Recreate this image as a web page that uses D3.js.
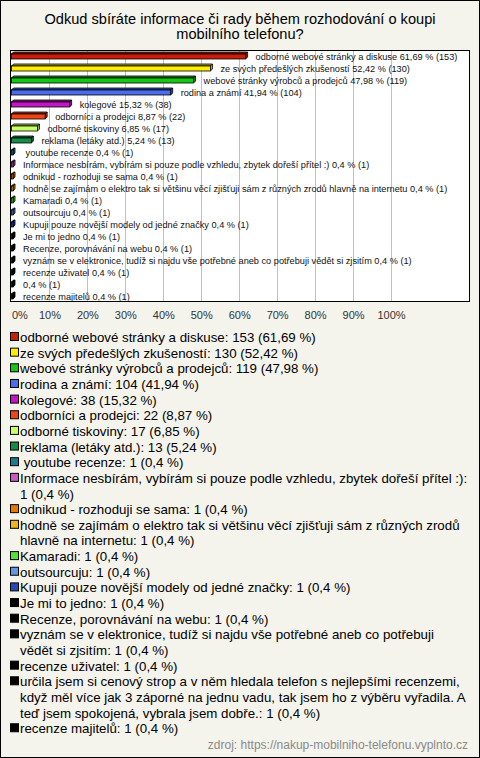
<!DOCTYPE html>
<html><head><meta charset="utf-8">
<script src="https://cdn.jsdelivr.net/npm/d3@7"></script>
<style>
html,body{margin:0;padding:0;background:#f4f3ec;}
svg{display:block;font-family:"Liberation Sans",Arial,sans-serif;}
</style></head>
<body><svg id="c" width="480" height="758"></svg>
<script>
const titleLines = ["Odkud sbíráte informace či rady během rozhodování o koupi", "mobilního telefonu?"];
const categories = [
  "odborné webové stránky a diskuse",
  "ze svých předešlých zkušeností",
  "webové stránky výrobců a prodejců",
  "rodina a známí",
  "kolegové",
  "odborníci a prodejci",
  "odborné tiskoviny",
  "reklama (letáky atd.)",
  " youtube recenze",
  "Informace nesbírám, vybírám si pouze podle vzhledu, zbytek dořeší přítel :)",
  "odnikud - rozhoduji se sama",
  "hodně se zajímám o elektro tak si většinu věcí zjišťuji sám z různých zrodů hlavně na internetu",
  "Kamaradi",
  "outsourcuju",
  "Kupuji pouze novější modely od jedné značky",
  "Je mi to jedno",
  "Recenze, porovnávání na webu",
  "vyznám se v elektronice, tudíž si najdu vše potřebné aneb co potřebuji vědět si zjsitím",
  "recenze uživatel",
  "určila jsem si cenový strop a v něm hledala telefon s nejlepšími recenzemi, když měl více jak 3 záporné na jednu vadu, tak jsem ho z výběru vyřadila. A teď jsem spokojená, vybrala jsem dobře.",
  "recenze majitelů"
];
const counts = [153,130,119,104,38,22,17,13,1,1,1,1,1,1,1,1,1,1,1,1,1];
const percents = [61.69,52.42,47.98,41.94,15.32,8.87,6.85,5.24,0.4,0.4,0.4,0.4,0.4,0.4,0.4,0.4,0.4,0.4,0.4,0.4,0.4];
const colors = ["#c81e0a","#ffee00","#14c814","#4a6cf0","#c814c8","#f04614","#c8ff64","#148c4a","#1e7d8c","#c85ac8","#e6780a","#f0b414","#50e632","#6496e6","#2846b4","#000000","#000000","#000000","#000000","#000000","#000000"];
const tickValues = [0,10,20,30,40,50,60,70,80,90,100];
const sourceText = "zdroj: https://nakup-mobilniho-telefonu.vyplnto.cz";

const svg = d3.select("#c");
const W = 480, H = 758;
const nb = s => s.replace(/^ /, "\u00a0");
svg.append("rect").attr("x",0.5).attr("y",0.5).attr("width",W-1).attr("height",H-1)
  .attr("fill","#f4f3ec").attr("stroke","#000");

// title
svg.append("g").selectAll("text").data(titleLines).join("text")
  .attr("x",240).attr("y",(d,i)=>24+i*14.5).attr("text-anchor","middle")
  .attr("font-size",14.6).attr("fill","#000").text(d=>d);

// plot
const box = {x0:10, x1:470, y0:50, y1:302};
const x = d3.scaleLinear().domain([0,100]).range([11.5,391]);
const y = d3.scaleBand().domain(d3.range(categories.length)).range([box.y0, box.y1]);

svg.append("rect").attr("x",box.x0+0.5).attr("y",box.y0+0.5).attr("width",box.x1-box.x0-1).attr("height",box.y1-box.y0-1)
  .attr("fill","#fff").attr("stroke","#000");

svg.append("g").selectAll("line").data(tickValues.filter(v=>v>0)).join("line")
  .attr("x1",d=>Math.round(x(d))+0.5).attr("x2",d=>Math.round(x(d))+0.5)
  .attr("y1",box.y0+1).attr("y2",box.y1-1).attr("stroke","#c0c0c0");

const axis = d3.axisBottom(x).tickValues(tickValues).tickSize(0).tickPadding(0).tickFormat(d=>d+"%");
const ag = svg.append("g").attr("transform",`translate(0,${box.y1})`).call(axis);
ag.select(".domain").remove();
ag.selectAll("text").attr("font-size",11).attr("fill","#333").attr("dy",0).attr("y",17)
  .attr("font-family","Liberation Sans, Arial, sans-serif")
  .attr("text-anchor",d=>d===0?"start":"middle");
ag.selectAll(".tick").filter(d=>d===0).select("text").attr("x",0);

function darker(c){return d3.color(c).darker(0.9).formatHex();}
const fmtPct = v => String(v).replace(".",",");

const bars = svg.append("g");
categories.forEach((cat,i)=>{
  const cy = y(i) + y.bandwidth()/2;
  const x0 = x(0), xv = x(percents[i]);
  const top = cy-2, bot = cy+3, d = 2;
  const col = colors[i];
  const g = bars.append("g");
  g.append("polygon").attr("points",`${x0},${top} ${x0+d},${top-d} ${xv+d},${top-d} ${xv},${top}`)
    .attr("fill",darker(col)).attr("stroke","#000").attr("stroke-width",0.8);
  g.append("polygon").attr("points",`${xv},${top} ${xv+d},${top-d} ${xv+d},${bot-d} ${xv},${bot}`)
    .attr("fill",darker(col)).attr("stroke","#000").attr("stroke-width",0.8);
  g.append("rect").attr("x",x0).attr("y",top).attr("width",Math.max(0,xv-x0)).attr("height",bot-top)
    .attr("fill",col).attr("stroke","#000").attr("stroke-width",0.8);
  const name = cat.length > 120 ? "" : cat + " ";
  g.append("text").attr("x",xv+10).attr("y",cy+3.5).attr("font-size",9.2).attr("fill","#111")
    .text(nb(`${name}${fmtPct(percents[i])} % (${counts[i]})`));
});

// legend
const leg = svg.append("g");
const lineH = 15.65;
const fs = 13.3;
let ly = 342;
const maxW = 449;
categories.forEach((cat,i)=>{
  const full = nb(`${cat}: ${counts[i]} (${fmtPct(percents[i])} %)`);
  leg.append("rect").attr("x",10.5).attr("y",ly-9.5).attr("width",8).attr("height",8)
    .attr("fill",colors[i]).attr("stroke","#000");
  const words = full.split(" ");
  let lines = [], cur = "";
  const t = leg.append("text").attr("font-size",fs).attr("x",20);
  words.forEach((w,wi)=>{
    const cand = wi===0 ? w : (cur === "" ? w : cur + " " + w);
    t.text(cand);
    if (t.node().getComputedTextLength() > maxW && cur !== "") {
      lines.push(cur); cur = w;
    } else cur = cand;
  });
  lines.push(cur);
  t.remove();
  lines.forEach((ln,k)=>{
    leg.append("text").attr("font-size",fs).attr("x",20).attr("y",ly+k*lineH).attr("fill","#000").text(ln);
  });
  ly += lines.length*lineH;
});

svg.append("text").attr("x",468).attr("y",749).attr("text-anchor","end").attr("font-size",12)
  .attr("fill","#8a8a8a").text(sourceText);
</script></body></html>
